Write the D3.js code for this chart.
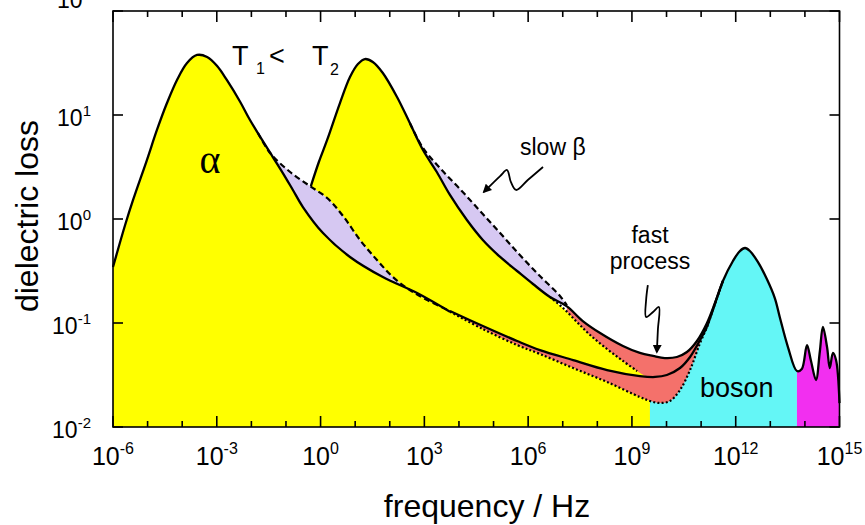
<!DOCTYPE html>
<html><head><meta charset="utf-8">
<script src="https://cdn.jsdelivr.net/npm/d3@7"></script>
<style>body{margin:0;background:#fff}svg{display:block}text{font-family:"Liberation Sans",Arial,sans-serif;fill:#000}</style>
</head><body>
<svg id="chart" width="865" height="525"></svg>
<script>
// Points: [log10(frequency / Hz), log10(dielectric loss)]
const t1Alpha = [[-6.00,-0.462],[-5.65,-0.058],[-5.42,0.183],[-5.02,0.567],[-4.73,0.856],[-4.44,1.115],[-4.15,1.337],[-3.86,1.500],[-3.57,1.577],[-3.28,1.558],[-2.99,1.471],[-2.71,1.337],[-2.33,1.130],[-2.04,0.952],[-1.69,0.760],[-1.38,0.596],[-1.09,0.442],[-0.80,0.279],[-0.51,0.115],[0.07,-0.135],[0.85,-0.365],[1.80,-0.558],[2.79,-0.712],[3.74,-0.892],[4.69,-1.058],[5.68,-1.212],[6.34,-1.298],[7.30,-1.433],[8.28,-1.567],[9.23,-1.712],[9.52,-1.750]];
const t1Slow = [[-1.81,0.827],[-1.46,0.635],[-0.88,0.452],[-0.31,0.317],[0.19,0.202],[0.65,0.029],[1.14,-0.202],[1.63,-0.394],[2.09,-0.558],[2.58,-0.683],[3.08,-0.779],[3.74,-0.885]];
const t1Total = [[3.74,-0.885],[4.69,-1.029],[5.68,-1.173],[6.34,-1.260],[7.30,-1.356],[8.28,-1.452],[9.23,-1.510],[9.67,-1.519],[10.01,-1.500],[10.39,-1.433],[10.68,-1.327],[10.97,-1.163],[11.17,-1.038]];
const t2Alpha = [[-0.28,0.317],[-0.05,0.548],[0.19,0.760],[0.56,1.115],[0.85,1.365],[1.08,1.490],[1.28,1.538],[1.51,1.510],[1.80,1.404],[2.21,1.173],[2.58,0.923],[2.96,0.663],[3.36,0.452],[3.74,0.231],[4.23,-0.010],[4.69,-0.202],[5.19,-0.365],[5.68,-0.500],[6.14,-0.625],[6.63,-0.750],[7.01,-0.856],[7.41,-0.990],[7.79,-1.115],[8.28,-1.250],[8.74,-1.365],[9.15,-1.462],[9.52,-1.538]];
const t2Slow = [[2.58,0.923],[2.96,0.683],[3.45,0.490],[4.03,0.288],[4.61,0.077],[5.19,-0.135],[5.76,-0.346],[6.34,-0.548],[6.92,-0.740],[7.12,-0.830]];
const t2Total = [[7.12,-0.840],[7.58,-0.981],[8.08,-1.096],[8.74,-1.221],[9.23,-1.288],[9.61,-1.317],[9.95,-1.337],[10.30,-1.327],[10.59,-1.279],[10.88,-1.173],[11.17,-1.000],[11.40,-0.808],[11.63,-0.596]];
const boson = [[9.52,-1.750],[9.81,-1.769],[10.10,-1.750],[10.39,-1.644],[10.68,-1.452],[10.97,-1.192],[11.17,-1.038],[11.34,-0.875],[11.63,-0.596],[11.92,-0.404],[12.12,-0.308],[12.27,-0.279],[12.41,-0.308],[12.64,-0.413],[12.90,-0.577],[13.13,-0.760],[13.28,-0.952],[13.51,-1.231],[13.77,-1.462]];
const highFreq = [[13.77,-1.462],[13.91,-1.442],[14.06,-1.212],[14.17,-1.356],[14.32,-1.548],[14.43,-1.279],[14.52,-1.038],[14.64,-1.231],[14.72,-1.433],[14.81,-1.288],[14.90,-1.356],[15.00,-1.770]];
const slowArrow = [[6.43,0.500],[5.99,0.375],[5.65,0.279],[5.50,0.356],[5.39,0.471],[5.19,0.413],[4.72,0.260]];
const fastArrow = [[9.46,-0.635],[9.41,-0.779],[9.41,-0.942],[9.61,-0.894],[9.78,-0.846],[9.75,-1.067],[9.72,-1.279]];

const xTickExps = d3.range(-6, 16);
const xLabelExps = [-6, -3, 0, 3, 6, 9, 12, 15];
const yTickExps = [-2, -1, 0, 1, 2];
const xTitle = "frequency / Hz";
const yTitle = "dielectric loss";

const svg = d3.select("#chart");
const x = d3.scaleLog().domain([1e-6, 1e15]).range([113, 839.5]);
const y = d3.scaleLog().domain([1e-2, 1e2]).range([427, 11]);
const px = d => x(Math.pow(10, d[0])), py = d => y(Math.pow(10, d[1]));
const curve = d3.curveCatmullRom.alpha(0.5);
const line = d3.line().x(px).y(py).curve(curve);
const area = d3.area().x(px).y0(y(1e-2)).y1(py).curve(curve);
const band = (upper, lower) => line(upper) + line(lower.slice().reverse()).replace(/^M/, "L") + "Z";
const seg = (arr, a, b) => arr.filter(d => d[0] >= a && d[0] <= b);

const YEL = "#ffff00", LAV = "#d6c8f2", RED = "#f4716b", CYA = "#64f6f6", MAG = "#f22ff0";
const g = svg.append("g");

// fills
g.append("path").attr("d", area(t2Total)).attr("fill", RED);
g.append("path").attr("d", area(t2Alpha)).attr("fill", YEL);
const lower = seg(t1Alpha, 3.74, 9.6).concat(seg(boson, 9.6, 11.17));
g.append("path").attr("d", band(t1Total, lower)).attr("fill", RED);
g.append("path").attr("d", area(t1Alpha)).attr("fill", YEL);
g.append("path").attr("d", area(boson)).attr("fill", CYA);
g.append("path").attr("d", area(highFreq)).attr("fill", MAG);
g.append("path").attr("d", band(t1Slow, seg(t1Alpha, -1.75, 3.7))).attr("fill", LAV);
g.append("path").attr("d", band(t2Slow, seg(t2Alpha, 2.6, 7.0))).attr("fill", LAV);

// lines
const stroke = (d, dash, w) => g.append("path").attr("d", d).attr("fill", "none")
  .attr("stroke", "#000").attr("stroke-width", w || 2.3).attr("stroke-dasharray", dash || null)
  .attr("stroke-linejoin", "round");
stroke(line(lower.concat(seg(boson, 11.2, 11.7))), "2,2.2", 2.2);
stroke(line(seg(t2Alpha, 6.6, 9.3)), "2,2.2", 2.2);
stroke(line(t1Slow), "6,3.5", 2.2);
stroke(line(t2Slow), "6,3.5", 2.2);
stroke(line(seg(t1Alpha, -6, 3.74)));
stroke(line(t1Total));
stroke(line(seg(t2Alpha, -1, 6.7).concat(t2Total)));
stroke(line(seg(boson, 11.17, 14).concat(highFreq.slice(1))));

// arrows
const defs = svg.append("defs");
defs.append("marker").attr("id", "ah").attr("viewBox", "0 0 10 10").attr("refX", 8).attr("refY", 5)
  .attr("markerWidth", 5).attr("markerHeight", 5).attr("orient", "auto")
  .append("path").attr("d", "M0,0L10,5L0,10z").attr("fill", "#000");
[slowArrow, fastArrow].forEach(a => g.append("path").attr("d", line(a)).attr("fill", "none")
  .attr("stroke", "#000").attr("stroke-width", 1.8).attr("marker-end", "url(#ah)"));

// frame and ticks
const ax = svg.append("g").attr("stroke", "#000").attr("stroke-width", 1.6);
ax.append("rect").attr("x", 113).attr("y", 11).attr("width", 839.5 - 113).attr("height", 427 - 11).attr("fill", "none");
xTickExps.forEach(e => {
  const xx = x(Math.pow(10, e)), L = (e % 3 === 0) ? 11 : 6;
  ax.append("line").attr("x1", xx).attr("x2", xx).attr("y1", 427).attr("y2", 427 - L);
  ax.append("line").attr("x1", xx).attr("x2", xx).attr("y1", 11).attr("y2", 11 + L);
});
yTickExps.forEach(e => {
  const yy = y(Math.pow(10, e));
  ax.append("line").attr("x1", 113).attr("x2", 123).attr("y1", yy).attr("y2", yy);
  ax.append("line").attr("x1", 839.5).attr("x2", 829.5).attr("y1", yy).attr("y2", yy);
});

// tick labels
xLabelExps.forEach(e => {
  const t = svg.append("text").attr("x", x(Math.pow(10, e))).attr("y", 465)
    .attr("text-anchor", "middle").attr("font-size", 25);
  t.append("tspan").text("10");
  t.append("tspan").attr("font-size", 16).attr("dy", -11).text(String(e));
});
yTickExps.forEach(e => {
  const yy = y(Math.pow(10, e)) + (e === 2 ? -3 : 11);
  const t = svg.append("text").attr("x", 91).attr("y", yy).attr("text-anchor", "end").attr("font-size", 23);
  t.append("tspan").text("10");
  t.append("tspan").attr("font-size", 15).attr("dy", -10).text(String(e));
});

// axis titles
svg.append("text").attr("x", 487).attr("y", 517).attr("text-anchor", "middle").attr("font-size", 32).text(xTitle);
svg.append("text").attr("transform", "translate(38,216) rotate(-90)").attr("text-anchor", "middle")
  .attr("font-size", 32).text(yTitle);

// annotations
svg.append("text").attr("x", 210).attr("y", 173).attr("text-anchor", "middle")
  .style("font-family", "'Liberation Serif','DejaVu Serif',serif").attr("font-size", 40).text("α");
const T = svg.append("text").attr("y", 65).attr("font-size", 27);
T.append("tspan").attr("x", 232).text("T");
T.append("tspan").attr("x", 256).attr("dy", 9).attr("font-size", 16).text("1");
T.append("tspan").attr("x", 269).attr("dy", -9).text("<");
T.append("tspan").attr("x", 312).text("T");
T.append("tspan").attr("x", 330).attr("dy", 10).attr("font-size", 16).text("2");
svg.append("text").attr("x", 520).attr("y", 155).attr("font-size", 23).text("slow β");
svg.append("text").attr("x", 650).attr("y", 243).attr("text-anchor", "middle").attr("font-size", 23).text("fast");
svg.append("text").attr("x", 650).attr("y", 269).attr("text-anchor", "middle").attr("font-size", 23).text("process");
svg.append("text").attr("x", 700).attr("y", 397).attr("font-size", 27).text("boson");
</script>
</body></html>
